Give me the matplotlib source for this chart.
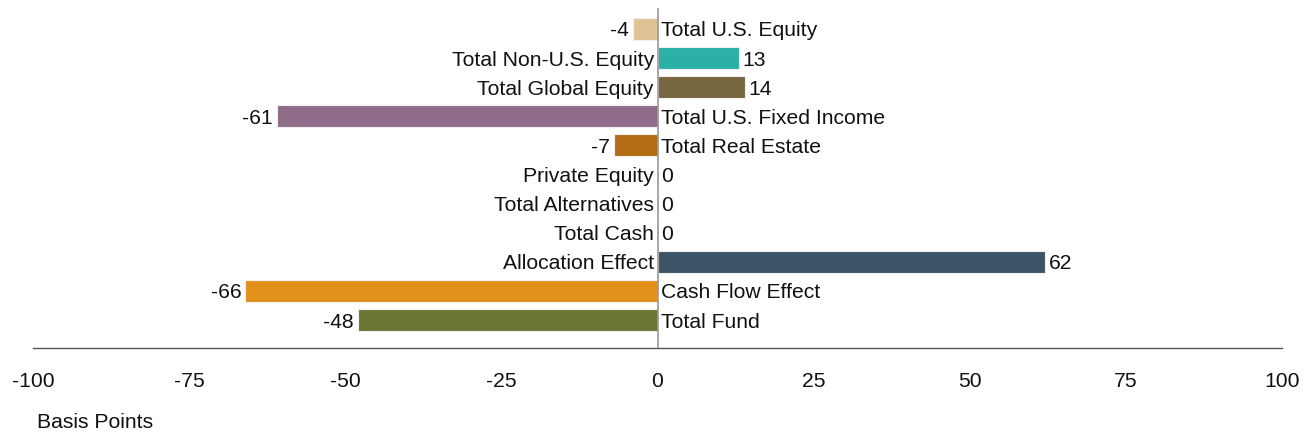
import matplotlib
matplotlib.use("Agg")
import matplotlib.pyplot as plt

categories = ["Total U.S. Equity", "Total Non-U.S. Equity", "Total Global Equity",
              "Total U.S. Fixed Income", "Total Real Estate", "Private Equity",
              "Total Alternatives", "Total Cash", "Allocation Effect",
              "Cash Flow Effect", "Total Fund"]
values = [-4, 13, 14, -61, -7, 0, 0, 0, 62, -66, -48]
colors = ["#DFC296", "#2BB0A5", "#786641", "#8F6C8A", "#B36C14", "#999999",
          "#999999", "#999999", "#3D5366", "#E2901C", "#6D7535"]
xticks = [-100, -75, -50, -25, 0, 25, 50, 75, 100]

plt.rcParams['font.family'] = ['Liberation Sans', 'DejaVu Sans']
fig = plt.figure(figsize=(13.04, 4.36), dpi=100)
W, H = 1304, 436
ax = fig.add_axes([33 / W, (436 - 348) / H, (1282 - 33) / W, (348 - 8) / H])

y = list(range(len(categories)))
ax.barh(y, values, height=0.76, color=colors, edgecolor="#f0f0f0", linewidth=0.8, zorder=2)
ax.set_xlim(-100, 100)
ax.set_ylim(len(categories) - 1 + 0.96, -0.72)
ax.axvline(0, color="#999999", linewidth=1.2, zorder=3)

fs = 15.2
pad = 0.6
for yi, (cat, v) in enumerate(zip(categories, values)):
    if v < 0:
        ax.text(v - pad, yi, f"{v}", ha="right", va="center_baseline", fontsize=fs, color="#111111")
        ax.text(pad, yi, cat, ha="left", va="center_baseline", fontsize=fs, color="#111111")
    else:
        ax.text(-pad, yi, cat, ha="right", va="center_baseline", fontsize=fs, color="#111111")
        ax.text(v + pad, yi, f"{v}", ha="left", va="center_baseline", fontsize=fs, color="#111111")

for s in ["top", "left", "right"]:
    ax.spines[s].set_visible(False)
ax.spines["bottom"].set_color("#555555")
ax.spines["bottom"].set_linewidth(1.0)
ax.set_yticks([])
ax.set_xticks(xticks)
ax.set_xticklabels([str(t) for t in xticks], fontsize=fs, color="#111111")
ax.tick_params(axis="x", length=0, pad=17)

fig.text(37 / W, 1 - 422 / H, "Basis Points", ha="left", va="center", fontsize=fs, color="#111111")

fig.savefig("out.png", dpi=100)
